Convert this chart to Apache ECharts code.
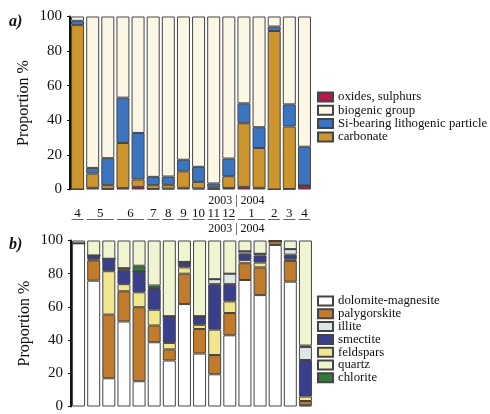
<!DOCTYPE html>
<html><head><meta charset="utf-8">
<script src="https://cdn.jsdelivr.net/npm/echarts@6/dist/echarts.min.js"></script>
<style>html,body{margin:0;padding:0;background:#fff}#c{width:490px;height:414px}</style>
</head><body><div id="c"></div>
<script>
// ---- data ----
const bars = ['b1','b2','b3','b4','b5','b6','b7','b8','b9','b10','b11','b12','b13','b14','b15','b16'];
const monthLabels = ['4','5','6','7','8','9','10','11','12','1','2','3','4'];
const monthSpans  = [1,2,2,1,1,1,1,1,1,2,1,1,1];
const yearLabel = '2003 | 2004';
const yTicks = [0,20,40,60,80,100];

// panel a (bottom to top)
const oxides    = [0, 1, 0.3, 0.8, 1.5, 0.3, 0.5, 1, 0.6, 0.3, 0.9, 1.5, 1, 0, 0.3, 2.3];
const carbonate = [95, 8.2, 2.2, 26.1, 4.3, 2.2, 2.2, 9.5, 3.8, 1, 6.8, 36.8, 23, 91.6, 36.1, 0];
const siLitho   = [2.5, 3.3, 15.6, 26.2, 26.9, 4.8, 4.8, 6.7, 8.7, 2.2, 10.2, 11.5, 12, 2.6, 12.8, 22.4];
const biogenic  = [2.5, 87.5, 81.9, 46.9, 67.3, 92.7, 92.5, 82.8, 86.9, 96.5, 82.1, 50.2, 64, 5.8, 50.8, 75.3];

// panel b (bottom to top)
const dolomite = [98.3, 75.8, 17, 51.2, 15.2, 38.7, 27.7, 61.7, 31.9, 19.4, 42.9, 76.2, 67.1, 97.3, 75.2, 0.8];
const palygor  = [0, 12.2, 38.4, 18.2, 44.6, 10.1, 6.7, 18.3, 14.8, 11.6, 13.4, 10.1, 16.7, 2.3, 12.5, 2.5];
const feldspar = [0, 0.6, 26.1, 4.3, 9, 9.5, 3.9, 3.8, 2.5, 15.3, 7, 2, 2.9, 0, 1, 2.7];
const smectite = [0, 2.4, 7.5, 8.6, 12.5, 12.5, 16.1, 3.3, 5.2, 27.4, 10.4, 3.8, 4.3, 0, 2.8, 22];
const illite   = [0, 0, 0, 1, 0, 0.5, 0, 0, 0, 3, 6.3, 1.4, 1, 0, 3.3, 7.8];
const chlorite = [0, 0, 0, 0, 3.5, 1.6, 0, 0, 0, 0, 0, 0, 0, 0, 0, 0.9];
const quartz   = [1.7, 9, 11, 16.7, 15.2, 27.1, 45.6, 12.9, 45.6, 23.3, 20, 6.5, 8, 0.4, 5.2, 63.3];

const serif = 'Liberation Serif';
const chart = echarts.init(document.getElementById('c'), null, {renderer:'canvas'});

const border = {borderColor:'#444', borderWidth:1};
function bar(name, data, color, axis, stack) {
  return {name, type:'bar', stack, data, xAxisIndex:axis, yAxisIndex:axis, barWidth:13,
    itemStyle:Object.assign({color}, border), emphasis:{disabled:true}, silent:true, animation:false};
}
function yAx(idx){
  return {type:'value', gridIndex:idx, min:0, max:100, interval:20,
    name:'Proportion %', nameLocation:'middle', nameGap:38,
    nameTextStyle:{fontFamily:serif, fontSize:16, color:'#111'},
    axisLine:{show:true, lineStyle:{color:'#111', width:2}},
    axisTick:{show:true, length:3, lineStyle:{color:'#111'}},
    axisLabel:{fontFamily:serif, fontSize:15, color:'#111', margin:8},
    splitLine:{show:false}};
}
function xAx(idx){
  return {type:'category', gridIndex:idx, data:bars, axisLine:{show:false}, axisTick:{show:false},
    axisLabel:{show:false}, splitLine:{show:false}};
}
const legendText = {fontFamily:serif, fontSize:12.8, color:'#111', lineHeight:13, overflow:'none'};
chart.setOption({
  animation:false,
  grid:[{left:70, top:16.5, width:242, height:173},
        {left:71, top:240.5, width:242, height:173}],
  xAxis:[xAx(0), xAx(1)],
  yAxis:[yAx(0), yAx(1)],
  legend:[
    {orient:'vertical', left:317, top:90.5, width:200, itemWidth:15, itemHeight:9, itemGap:0.3, itemTextGap:5, icon:'rect',
     textStyle:legendText, selectedMode:false, padding:0,
     data:['oxides, sulphurs','biogenic group','Si-bearing lithogenic particle','carbonate']},
    {orient:'vertical', left:317, top:294.5, width:200, itemWidth:15, itemHeight:9, itemGap:-0.2, itemTextGap:5, icon:'rect',
     textStyle:legendText, selectedMode:false, padding:0,
     data:['dolomite-magnesite','palygorskite','illite','smectite','feldspars','quartz','chlorite']}
  ],
  series:[
    bar('oxides, sulphurs', oxides, '#b8174b', 0, 'a'),
    bar('carbonate', carbonate, '#cc952e', 0, 'a'),
    bar('Si-bearing lithogenic particle', siLitho, '#3b74c0', 0, 'a'),
    bar('biogenic group', biogenic, '#fbf7e4', 0, 'a'),
    bar('dolomite-magnesite', dolomite, '#ffffff', 1, 'b'),
    bar('palygorskite', palygor, '#c07b2b', 1, 'b'),
    bar('feldspars', feldspar, '#f1e68c', 1, 'b'),
    bar('smectite', smectite, '#3a3f8b', 1, 'b'),
    bar('illite', illite, '#dfe7e6', 1, 'b'),
    bar('chlorite', chlorite, '#2e7a39', 1, 'b'),
    bar('quartz', quartz, '#f1f4d0', 1, 'b')
  ]
});

// labels positioned through the axis scale
const g = [];
let idx = 0;
monthLabels.forEach((m, i) => {
  const first = idx, last = idx + monthSpans[i] - 1;
  const x0 = chart.convertToPixel({xAxisIndex:0}, first) - 6;
  const x1 = chart.convertToPixel({xAxisIndex:0}, last) + 6;
  g.push({type:'text', x:(x0+x1)/2, y:214, style:{text:m, fontFamily:serif, fontSize:13, fill:'#111', align:'center', verticalAlign:'middle'}});
  g.push({type:'line', shape:{x1:x0, y1:219.5, x2:x1, y2:219.5}, style:{stroke:'#666', lineWidth:1}});
  idx += monthSpans[i];
});
const yrX = (chart.convertToPixel({xAxisIndex:0}, 10) + chart.convertToPixel({xAxisIndex:0}, 11)) / 2;
g.push({type:'text', x:yrX, y:200.5, style:{text:yearLabel, fontFamily:serif, fontSize:12, fill:'#111', align:'center', verticalAlign:'middle'}});
g.push({type:'text', x:yrX, y:229, style:{text:yearLabel, fontFamily:serif, fontSize:12, fill:'#111', align:'center', verticalAlign:'middle'}});
g.push({type:'text', x:9, y:22, style:{text:'a)', fontFamily:serif, fontSize:16, fontWeight:'bold', fontStyle:'italic', fill:'#111', verticalAlign:'middle'}});
g.push({type:'text', x:9, y:245, style:{text:'b)', fontFamily:serif, fontSize:16, fontWeight:'bold', fontStyle:'italic', fill:'#111', verticalAlign:'middle'}});
chart.setOption({graphic:g});
</script></body></html>
